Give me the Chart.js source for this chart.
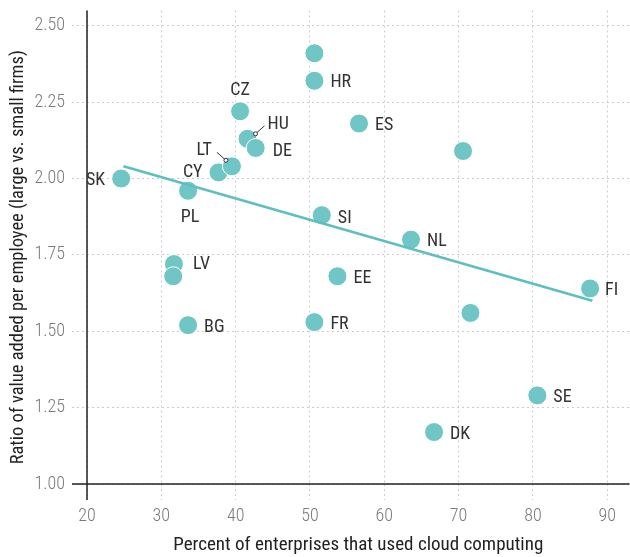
<!DOCTYPE html>
<html>
<head>
<meta charset="utf-8">
<script src="https://cdn.jsdelivr.net/npm/chart.js@4.4.1/dist/chart.umd.min.js"></script>
<style>
  html, body { margin: 0; padding: 0; background: #fff; overflow: hidden; }
  #wrap { width: 630px; height: 557px; position: relative; overflow: hidden; }
</style>
</head>
<body>
<div id="wrap"><canvas id="c" width="640" height="557"></canvas></div>
<script>
// ---- Data ----
const countries = ["SK","PL","CY","LT","HU","DE","CZ","","HR","ES","","SI","NL","EE","FR","FI","","SE","DK","LV","","BG"];
const cloudPct  = [24.6, 33.6, 37.7, 39.5, 41.6, 42.7, 40.6, 50.6, 50.6, 56.6, 70.6, 51.6, 63.6, 53.7, 50.6, 87.7, 71.6, 80.6, 66.7, 31.7, 31.6, 33.6];
const vaRatio   = [2.00, 1.96, 2.02, 2.04, 2.13, 2.10, 2.22, 2.41, 2.32, 2.18, 2.09, 1.88, 1.80, 1.68, 1.53, 1.64, 1.56, 1.29, 1.17, 1.72, 1.68, 1.52];
const trendX = [24.9, 88.0];
const trendY = [2.04, 1.60];
const xTicks = [20, 30, 40, 50, 60, 70, 80, 90];
const yTicks = [1.00, 1.25, 1.50, 1.75, 2.00, 2.25, 2.50];
const xTitle = "Percent of enterprises that used cloud computing";
const yTitle = "Ratio of value added per employee (large vs. small firms)";

// label placement (style): [dx, dy, align]
const labelPos = {
  SK: [-16, 2, "right"], PL: [2, 27, "center"], CY: [-16, 0, "right"],
  LT: [-20, -16, "right"], HU: [20, -14, "left"], DE: [17, 4, "left"],
  CZ: [0, -21, "center"], HR: [16, 2, "left"], ES: [16, 2, "left"],
  SI: [16, 3, "left"], NL: [16, 2, "left"], EE: [16, 2, "left"],
  FR: [16, 2, "left"], FI: [15, 2, "left"], SE: [16, 2, "left"],
  DK: [16, 2, "left"], LV: [19, 0, "left"], BG: [16, 2, "left"]
};
const leaders = { LT: [[-15, -14], [-6, -6]], HU: [[17, -13], [8, -5]] };

const FONT = "'Roboto Condensed', 'Liberation Sans Narrow', 'DejaVu Sans Condensed', sans-serif";
const teal = "#6FC6C5";

const points = cloudPct.map((x, i) => ({ x: x, y: vaRatio[i] }));
const trend = trendX.map((x, i) => ({ x: x, y: trendY[i] }));

const overlay = {
  id: "overlay",
  afterDatasetsDraw(chart) {
    const ctx = chart.ctx;
    const xs = chart.scales.x, ys = chart.scales.y;
    const area = chart.chartArea;
    ctx.save();
    ctx.strokeStyle = "#222";
    ctx.lineWidth = 1.5;
    ctx.setLineDash([]);
    const x0 = xs.getPixelForValue(20);
    const y0 = ys.getPixelForValue(1.00);
    ctx.beginPath();
    ctx.moveTo(x0, area.top);
    ctx.lineTo(x0, y0 + 16);
    ctx.stroke();
    ctx.beginPath();
    ctx.moveTo(x0 - 15, y0);
    ctx.lineTo(area.right, y0);
    ctx.stroke();

    // y axis title
    ctx.save();
    ctx.translate(18, (area.top + y0 + 16) / 2 + 2);
    ctx.rotate(-Math.PI / 2);
    ctx.font = "18.5px " + FONT;
    ctx.fillStyle = "#222";
    ctx.textAlign = "center";
    ctx.textBaseline = "middle";
    ctx.fillText(yTitle, 0, 0);
    ctx.restore();

    ctx.font = "18px " + FONT;
    ctx.fillStyle = "#333";
    ctx.textBaseline = "middle";
    countries.forEach((c, i) => {
      if (!c) return;
      const p = labelPos[c];
      const px = xs.getPixelForValue(cloudPct[i]);
      const py = ys.getPixelForValue(vaRatio[i]);
      ctx.textAlign = p[2];
      ctx.fillText(c, px + p[0], py + p[1]);
      if (leaders[c]) {
        const [a, b] = leaders[c];
        ctx.strokeStyle = "#333";
        ctx.lineWidth = 1;
        ctx.beginPath();
        ctx.moveTo(px + a[0], py + a[1]);
        ctx.lineTo(px + b[0], py + b[1]);
        ctx.stroke();
        ctx.beginPath();
        ctx.arc(px + b[0], py + b[1], 2, 0, Math.PI * 2);
        ctx.fillStyle = "#fff";
        ctx.fill();
        ctx.stroke();
        ctx.fillStyle = "#333";
      }
    });
    ctx.restore();
  }
};

new Chart(document.getElementById("c"), {
  type: "scatter",
  data: {
    datasets: [
      {
        type: "line",
        data: trend,
        borderColor: "#5DBFBE",
        borderWidth: 2.5,
        pointRadius: 0,
        fill: false,
        order: 0
      },
      {
        data: points,
        backgroundColor: teal,
        borderColor: "#fff",
        borderWidth: 1,
        pointRadius: 9.5,
        pointHoverRadius: 9.5,
        order: 1
      }
    ]
  },
  plugins: [overlay],
  options: {
    responsive: false,
    animation: false,
    events: [],
    layout: { padding: { top: 10, right: 0, left: 0, bottom: 0 } },
    plugins: { legend: { display: false }, tooltip: { enabled: false } },
    scales: {
      x: {
        type: "linear",
        min: 20, max: 93,
        afterBuildTicks: (s) => { s.ticks = xTicks.map(v => ({ value: v })); },
        afterFit: (s) => { s.height = 73; },
        grid: { color: "#cccccc", lineWidth: 1, tickLength: 16, tickColor: "#cccccc", tickBorderDash: [2, 3] },
        border: { display: false, dash: [2, 3] },
        ticks: { color: "#7a7a7a", font: { family: FONT, size: 18, weight: "300" }, padding: 6, callback: (v) => String(v) },
        title: { display: true, text: xTitle, color: "#222", font: { family: FONT, size: 19 }, padding: { top: 0, bottom: 0 } }
      },
      y: {
        type: "linear",
        min: 1.00, max: 2.55,
        afterBuildTicks: (s) => { s.ticks = yTicks.map(v => ({ value: v })); },
        afterFit: (s) => { s.width = 87; s.paddingTop = 0; s.paddingBottom = 0; },
        grid: { color: "#cccccc", lineWidth: 1, tickLength: 15, tickColor: "#cccccc", tickBorderDash: [2, 3] },
        border: { display: false, dash: [2, 3] },
        ticks: { color: "#7a7a7a", font: { family: FONT, size: 18, weight: "300" }, padding: 7, callback: (v) => v.toFixed(2) },
        title: { display: false, text: yTitle }
      }
    }
  }
});
</script>
</body>
</html>
